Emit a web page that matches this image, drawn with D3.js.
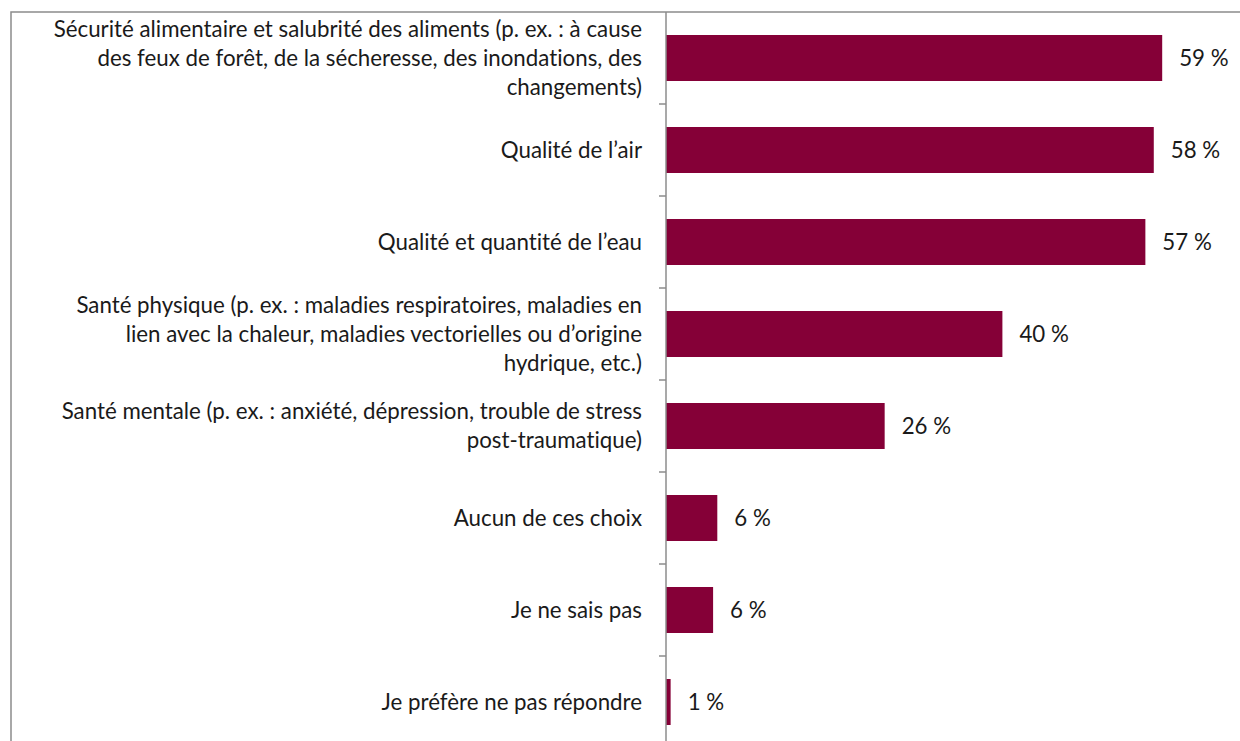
<!DOCTYPE html>
<html><head><meta charset="utf-8">
<script src="https://cdn.jsdelivr.net/npm/d3@7"></script>
<style>
html,body{margin:0;padding:0;background:#fff;overflow:hidden}
text{font-family:Lato,"Open Sans",sans-serif;font-variant-ligatures:none;font-feature-settings:"liga" 0,"clig" 0}
</style></head>
<body>
<svg id="chart" width="1240" height="741"></svg>
<script>
const categories = [
  ["Sécurité alimentaire et salubrité des aliments (p. ex. : à cause", "des feux de forêt, de la sécheresse, des inondations, des", "changements)"],
  ["Qualité de l’air"],
  ["Qualité et quantité de l’eau"],
  ["Santé physique (p. ex. : maladies respiratoires, maladies en", "lien avec la chaleur, maladies vectorielles ou d’origine", "hydrique, etc.)"],
  ["Santé mentale (p. ex. : anxiété, dépression, trouble de stress", "post-traumatique)"],
  ["Aucun de ces choix"],
  ["Je ne sais pas"],
  ["Je préfère ne pas répondre"]
];
const values = [59, 58, 57, 40, 26, 6.1, 5.6, 0.55];
const valueLabels = ["59 %", "58 %", "57 %", "40 %", "26 %", "6 %", "6 %", "1 %"];

const svg = d3.select("#chart");
const fontSize = 22.3;
const axisX = 666;

// chart frame
svg.append("rect").attr("x", 11).attr("y", 12).attr("width", 1400).attr("height", 900)
  .attr("fill", "none").attr("stroke", "#8c8c8c").attr("stroke-width", 1.5);

const idx = d3.range(categories.length);
const y = d3.scaleBand().domain(idx).range([12, 748]).paddingInner(0.5).paddingOuter(0.25);
const x = d3.scaleLinear().domain([0, 100]).range([axisX, axisX + 841]);

// bars
svg.append("g").selectAll("rect").data(idx).join("rect")
  .attr("x", x(0))
  .attr("y", i => y(i))
  .attr("width", i => x(values[i]) - x(0))
  .attr("height", y.bandwidth())
  .attr("fill", "#850037");

// axis line with ticks between categories
const axisG = svg.append("g");
axisG.append("line").attr("x1", axisX).attr("x2", axisX).attr("y1", 12).attr("y2", 760)
  .attr("stroke", "#8c8c8c").attr("stroke-width", 1.5);
const step = y.step();
const bounds = d3.range(1, categories.length).map(k => y(k) - step * y.paddingInner() / 2);
axisG.selectAll("line.tick").data(bounds).join("line").attr("class", "tick")
  .attr("x1", axisX - 7).attr("x2", axisX).attr("y1", d => d).attr("y2", d => d)
  .attr("stroke", "#8c8c8c").attr("stroke-width", 1.5);

// category labels
const lineH = 29;
const lab = svg.append("g").selectAll("text").data(idx).join("text")
  .attr("text-anchor", "end")
  .attr("font-size", fontSize)
  .attr("fill", "#1a1a1a");
lab.each(function(i) {
  const lines = categories[i];
  const cy = y(i) + y.bandwidth() / 2;
  const t = d3.select(this);
  lines.forEach((l, j) => {
    t.append("tspan").attr("x", 642)
      .attr("y", cy + (j - (lines.length - 1) / 2) * lineH)
      .attr("dy", "0.35em").text(l);
  });
});

// value labels
svg.append("g").selectAll("text").data(idx).join("text")
  .attr("x", i => x(values[i]) + 17)
  .attr("y", i => y(i) + y.bandwidth() / 2)
  .attr("dy", "0.35em")
  .attr("font-size", fontSize)
  .attr("fill", "#1a1a1a")
  .text(i => valueLabels[i]);
</script>
</body></html>
